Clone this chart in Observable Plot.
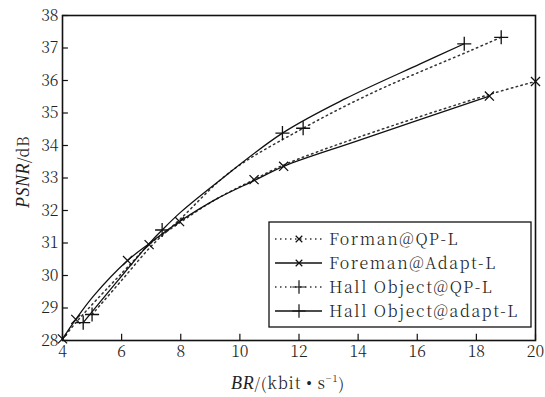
<!DOCTYPE html>
<html>
<head>
<meta charset="utf-8">
<script src="https://cdn.jsdelivr.net/npm/d3@7"></script>
<script src="https://cdn.jsdelivr.net/npm/@observablehq/plot@0.6"></script>
<style>
  html, body { margin: 0; padding: 0; background: #fff; }
  #chart { width: 545px; height: 397px; position: relative; }
  #chart text { font-weight: 300; }
</style>
</head>
<body>
<div id="chart"></div>
<script>
// ---- data ----
const seriesNames = ["Forman@QP-L", "Foreman@Adapt-L", "Hall Object@QP-L", "Hall Object@adapt-L"];

const foremanQpBR     = [4.0, 4.5, 5.2, 6.3, 6.93, 7.96, 9.2, 10.48, 11.48, 14.0, 18.44, 20.0];
const foremanQpPSNR   = [28.05, 28.6, 29.3, 30.35, 30.95, 31.62, 32.35, 32.95, 33.4, 34.25, 35.57, 35.97];
const foremanQpMark   = [1, 0, 0, 0, 1, 0, 0, 1, 0, 0, 0, 1];

const foremanAdBR     = [4.0, 4.45, 5.06, 6.2, 6.93, 7.96, 9.2, 10.48, 11.48, 14.0, 18.44];
const foremanAdPSNR   = [28.05, 28.65, 29.38, 30.46, 30.98, 31.66, 32.35, 32.92, 33.36, 34.15, 35.52];
const foremanAdMark   = [0, 1, 0, 1, 0, 1, 0, 0, 1, 0, 1];

const hallQpBR        = [5.0, 6.0, 7.0, 8.0, 9.69, 12.14, 14.53, 17.8, 18.84];
const hallQpPSNR      = [28.8, 29.85, 30.9, 31.75, 33.2, 34.53, 35.64, 36.92, 37.33];
const hallQpMark      = [1, 0, 0, 0, 0, 1, 0, 0, 1];

const hallAdBR        = [4.7, 5.45, 6.93, 7.37, 8.0, 9.24, 11.44, 13.57, 16.1, 17.59];
const hallAdPSNR      = [28.55, 29.38, 30.98, 31.4, 31.95, 32.87, 34.38, 35.44, 36.51, 37.13];
const hallAdMark      = [1, 0, 0, 1, 0, 0, 1, 0, 0, 1];

const xTicks = [4, 6, 8, 10, 12, 14, 16, 18, 20];
const yTicks = [28, 29, 30, 31, 32, 33, 34, 35, 36, 37, 38];

// ---- build table ----
function rowsOf(name, xs, ys, ms, dashed, symbol) {
  return xs.map((x, i) => ({series: name, br: x, psnr: ys[i], marked: !!ms[i], dashed, symbol}));
}
const rows = [
  ...rowsOf(seriesNames[0], foremanQpBR, foremanQpPSNR, foremanQpMark, true, "times"),
  ...rowsOf(seriesNames[1], foremanAdBR, foremanAdPSNR, foremanAdMark, false, "times"),
  ...rowsOf(seriesNames[2], hallQpBR, hallQpPSNR, hallQpMark, true, "plus"),
  ...rowsOf(seriesNames[3], hallAdBR, hallAdPSNR, hallAdMark, false, "plus")
];

const FONT = "'Noto Serif CJK SC', 'Liberation Serif', serif";
const DOTS = "1.5,3.5";

const plot = Plot.plot({
  width: 545,
  height: 397,
  marginLeft: 62,
  marginRight: 10,
  marginTop: 15,
  marginBottom: 57,
  style: {fontFamily: FONT, fontSize: "16px", background: "#fff", color: "#222"},
  x: {domain: [4, 20]},
  y: {domain: [28, 38]},
  marks: [
    Plot.line(rows.filter(d => d.dashed), {x: "br", y: "psnr", z: "series", curve: "catmull-rom",
      stroke: "#333", strokeWidth: 1.5, strokeDasharray: DOTS}),
    Plot.line(rows.filter(d => !d.dashed), {x: "br", y: "psnr", z: "series", curve: "catmull-rom",
      stroke: "#111", strokeWidth: 1.3}),
    Plot.dot(rows.filter(d => d.marked && d.symbol === "times"), {x: "br", y: "psnr", symbol: "times", r: 4.2, stroke: "#111", strokeWidth: 1.3}),
    Plot.dot(rows.filter(d => d.marked && d.symbol === "plus"), {x: "br", y: "psnr", symbol: "plus", r: 4.6, stroke: "#111", strokeWidth: 1.3}),
    Plot.ruleX(xTicks, {x: d => d, y1: 28, y2: 28.19, stroke: "#111", strokeWidth: 1.2}),
    Plot.ruleY(yTicks, {y: d => d, x1: 4, x2: 4.2, stroke: "#111", strokeWidth: 1.2}),
    Plot.axisX(xTicks, {tickSize: 0, tickPadding: 5, fontSize: 16, label: null, fontFamily: FONT}),
    Plot.axisY(yTicks, {tickSize: 0, tickPadding: 4, fontSize: 16, label: null, fontFamily: FONT}),
    Plot.frame({stroke: "#111", strokeWidth: 1.6})
  ]
});

document.getElementById("chart").appendChild(plot);

// ---- axis labels with italic parts ----
const svg = d3.select(plot);
const xl = svg.append("text")
  .attr("x", 288).attr("y", 389)
  .attr("text-anchor", "middle")
  .attr("font-family", FONT).attr("font-size", 16).attr("fill", "#222")
  .attr("letter-spacing", 0.8);
xl.append("tspan").attr("font-style", "italic").attr("font-family", "'Liberation Serif', serif").attr("font-size", 18).text("BR");
xl.append("tspan").text("/(kbit ");
xl.append("tspan").attr("font-family", "'Liberation Serif', serif").text("•");
xl.append("tspan").text(" s");
xl.append("tspan").attr("dy", -7).attr("font-size", 10).text("−1");
xl.append("tspan").attr("dy", 7).text(")");

const yl = svg.append("text")
  .attr("transform", "translate(29,172) rotate(-90)")
  .attr("text-anchor", "middle")
  .attr("font-family", FONT).attr("font-size", 16).attr("fill", "#222")
  .attr("letter-spacing", 0.5);
yl.append("tspan").attr("font-style", "italic").attr("font-family", "'Liberation Serif', serif").attr("font-size", 18).text("PSNR");
yl.append("tspan").text("/dB");

// ---- legend ----
const lg = svg.append("g").attr("transform", "translate(269,222)");
lg.append("rect").attr("width", 262).attr("height", 105)
  .attr("fill", "#fff").attr("stroke", "#111").attr("stroke-width", 1.3);
const legendStyles = [
  {dashed: true, symbol: "times"},
  {dashed: false, symbol: "times"},
  {dashed: true, symbol: "plus"},
  {dashed: false, symbol: "plus"}
];
seriesNames.forEach((name, i) => {
  const y = 17 + i * 24;
  const st = legendStyles[i];
  lg.append("line").attr("x1", 6).attr("x2", 53).attr("y1", y).attr("y2", y)
    .attr("stroke", st.dashed ? "#333" : "#111").attr("stroke-width", st.dashed ? 1.5 : 1.3)
    .attr("stroke-dasharray", st.dashed ? DOTS : null);
  const sym = d3.symbol(st.symbol === "times" ? d3.symbolTimes : d3.symbolPlus, st.symbol === "times" ? 30 : 60);
  lg.append("path").attr("d", sym()).attr("transform", `translate(30,${y})`)
    .attr("fill", "none").attr("stroke", "#111").attr("stroke-width", 1.2);
  lg.append("text").attr("x", 60).attr("y", y).attr("dy", "0.35em")
    .attr("text-anchor", "start")
    .attr("font-family", FONT).attr("font-size", 16).attr("fill", "#222")
    .attr("letter-spacing", 1.6).text(name);
});
</script>
</body>
</html>
